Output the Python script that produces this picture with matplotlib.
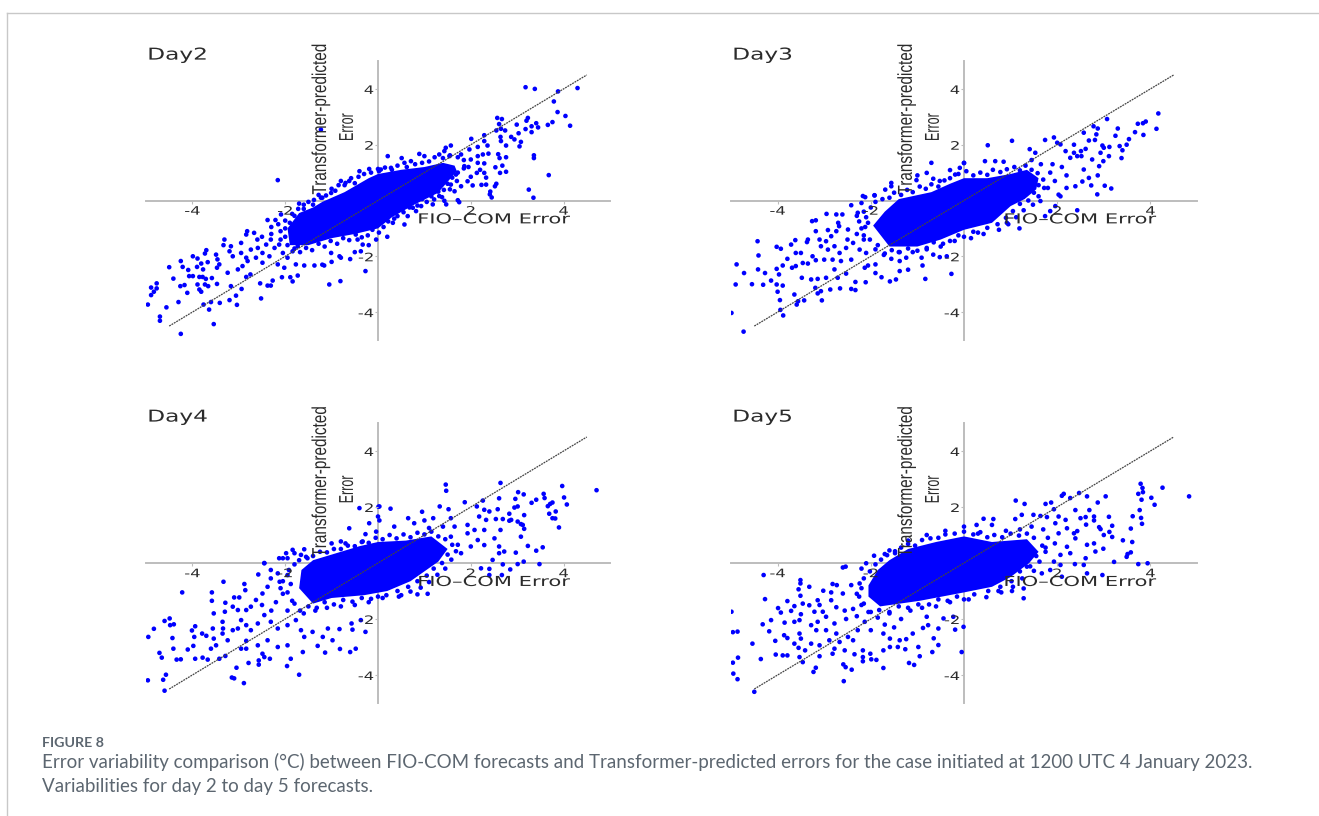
import numpy as np
import matplotlib
matplotlib.use('Agg')
import matplotlib.pyplot as plt
from matplotlib.lines import Line2D
from matplotlib.patches import Polygon
from matplotlib.patheffects import AbstractPathEffect
from matplotlib.transforms import Affine2D

# points (FIO-COM error, Transformer-predicted error)
# the middle of each cloud is solid blue, no single point can be read there,
# so it is kept as an outline of the solid area
day2_core = [(-1.95,-1.0),(-1.7,-0.45),(-1.4,-0.25),(-1.2,-0.05),(-0.72,0.3),(-0.2,0.8),(0,0.95),(0.5,1.1),(1.0,1.2),(1.4,1.35),
             (1.65,1.25),(1.7,1.05),(1.29,0.27),(0.78,-0.15),(0.3,-0.6),(0,-1.0),(-0.5,-1.2),(-1,-1.35),(-1.5,-1.6),(-1.9,-1.6)]
day2_edge = [(-2.3,-0.95),(-2.15,-0.85),(-2.0,-0.72),(-1.85,-0.48),(-1.72,-0.3),(-1.6,-0.15),(-1.5,-0.05),(-1.38,0.02),(-1.28,0.2),(-1.12,0.18),
    (-1.0,0.42),(-0.92,0.35),(-0.85,0.55),(-0.72,0.55),(-0.62,0.7),(-0.5,0.62),(-0.42,0.85),(-0.3,0.95),(-0.15,1.0),(0.02,1.05),
    (0.15,1.18),(0.3,1.1),(0.42,1.25),(0.62,1.2),(0.8,1.3),(0.95,1.35),(1.1,1.4),(1.22,1.55),(1.4,1.52),(1.55,1.62),
    (1.72,1.55),(1.85,1.45),(1.85,1.15),(1.72,1.0),(1.95,1.2),(1.6,0.82),(1.7,0.7),(1.5,0.6),(1.42,0.38),(1.55,0.4),
    (1.3,0.32),(1.38,0.12),(1.15,0.15),(1.05,-0.05),(0.95,0.05),(0.85,-0.18),(0.68,-0.25),(0.55,-0.42),(0.45,-0.3),(0.35,-0.65),
    (0.22,-0.75),(0.12,-0.95),(0.02,-1.15),(-0.12,-1.05),(-0.22,-1.25),(-0.35,-1.32),(-0.48,-1.22),(-0.62,-1.42),(-0.75,-1.35),(-0.88,-1.55),
    (-1.02,-1.45),(-1.15,-1.65),(-1.28,-1.55),(-1.42,-1.78),(-1.55,-1.7),(-1.68,-1.85),(-1.8,-1.72),(-1.95,-1.6),(-2.1,-1.4),(-2.0,-1.3)]
day2_points = [(3.18,4.06),(3.38,4.0),(3.88,3.91),(4.30,4.03),(3.79,3.55),(3.87,3.17),(4.04,3.03),(4.14,2.68),(3.76,2.81),(3.66,2.71),
    (3.45,2.62),(3.41,2.77),(3.31,2.66),(3.31,2.45),(3.18,2.56),(3.23,2.96),(3.2,2.86),(2.99,2.72),(3.03,2.41),(2.57,2.96),
    (2.67,2.92),(2.61,2.74),(2.65,2.57),(2.55,2.51),(2.74,2.51),(2.29,2.34),(2.64,2.28),(2.87,2.28),(2.94,2.19),(3.08,2.10),
    (3.05,1.94),(2.76,1.97),(2.65,2.13),(2.29,2.13),(2.01,2.21),(3.36,1.62),(3.36,1.52),(3.68,0.91),(3.25,0.39),(3.35,0.10),
    (2.55,0.60),(2.52,0.51),(2.42,0.32),(2.41,0.22),(2.45,0.11),(2.76,1.03),(2.63,0.99),(2.68,1.25),(2.53,1.19),(2.76,1.55),
    (2.62,1.52),(2.59,1.66),(2.38,1.68),(2.29,1.33),(2.29,0.99),(2.33,0.82),(2.23,0.56),(2.33,0.57),(2.13,0.99),(2.0,0.85),
    (2.04,0.54),(1.57,1.97),(1.46,1.89),(1.43,1.77),(0.21,1.59),(0.51,1.52),(0.89,1.67),(1.75,-0.06),(1.72,0.01),(1.47,-0.14),
    (0.82,-0.38),(0.57,-0.86),(0.57,1.35),(0.71,1.41),(1.0,1.59),(1.32,1.65),(1.54,1.59),(1.79,1.65),(1.97,1.83),(2.15,1.92),
    (2.36,1.97),(0.06,1.11),(0.28,1.17),(1.68,0.93),(1.86,1.23),(2.0,1.47),(2.15,1.59),(2.26,1.65),(1.93,0.69),(1.79,0.51),
    (1.65,0.33),(1.57,0.57),(1.43,-0.01),(1.32,0.16),(1.21,0.04),(1.18,-0.14),(0.93,-0.2),(0.75,-0.26),(0.64,-0.56),(0.42,-0.56),
    (0.32,-0.8),(0.06,-0.8),(2.15,1.35),(2.2,1.1),(-2.16,0.73),(-0.19,1.13),(0,1.13),(-0.4,1.05),(-0.58,0.8),(-0.7,0.63),
    (-0.8,0.7),(-1.01,0.27),(-1.23,0.10),(-1.23,2.54),(-4.25,-4.78),(-3.54,-4.43),(-4.70,-4.31),(-4.70,-4.16),(-4.96,-3.73),(-4.56,-3.83),
    (-4.30,-3.64),(-4.89,-3.39),(-4.83,-3.27),(-4.89,-3.12),(-4.77,-3.15),(-4.77,-2.97),(-4.41,-2.80),(-4.50,-2.39),(-4.25,-2.17),(-4.21,-2.38),
    (-4.09,-2.49),(-3.99,-2.0),(-3.89,-2.08),(-3.90,-2.38),(-3.81,-2.26),(-3.77,-2.47),(-3.70,-1.78),(-3.73,-1.90),(-3.67,-2.21),(-3.49,-1.94),
    (-3.46,-2.11),(-3.42,-2.29),(-3.47,-2.41),(-3.31,-1.40),(-3.33,-1.60),(-3.17,-1.64),(-3.20,-1.82),(-3.13,-2.0),(-2.95,-1.52),(-2.82,-1.10),
    (-2.84,-1.22),(-2.67,-1.16),(-4.07,-2.71),(-3.99,-2.71),(-3.85,-2.74),(-3.78,-2.74),(-3.71,-2.81),(-3.58,-2.78),(-3.47,-2.99),(-3.73,-3.01),
    (-3.66,-3.07),(-3.89,-3.01),(-4.26,-3.07),(-4.17,-3.03),(-4.11,-3.31),(-3.85,-3.19),(-3.81,-3.27),(-3.76,-3.73),(-3.64,-3.91),(-3.60,-3.64),
    (-3.41,-3.67),(-3.20,-3.57),(-3.04,-3.74),(-3.06,-3.41),(-3.17,-3.07),(-2.94,-3.17),(-2.52,-3.51),(-2.54,-2.97),(-2.38,-3.05),(-2.31,-3.05),
    (-2.27,-2.87),(-2.07,-2.75),(-1.89,-2.75),(-1.84,-2.90),(-1.73,-2.69),(-1.05,-3.01),(-0.81,-2.89),(-0.27,-2.53),(-2.84,-2.74),(-2.75,-2.65),
    (-3.24,-2.59),(-3.02,-2.47),(-2.92,-2.35),(-2.81,-2.17),(-2.63,-2.05),(-2.49,-2.23),(-2.34,-2.0),(-2.16,-2.29),(-2.02,-2.41),(-1.77,-2.29),
    (-1.59,-2.33),(-1.37,-2.33),(-1.16,-2.33),(-1.01,-1.88),(-0.83,-2.0),(-0.44,-1.4),(-0.33,-1.58),(-0.37,-1.82),(-0.04,-1.4),(-2.95,-1.88),
    (-2.84,-2.05),(-2.74,-1.76),(-2.59,-1.7),(-2.49,-1.88),(-2.41,-1.58),(-2.31,-1.4),(-2.23,-1.7),(-2.13,-1.58),(-2.05,-1.88),(-1.95,-2.05),
    (-1.84,-1.82),(-1.73,-1.64),(-2.3,-1.2),(-2.5,-1.3),(-2.6,-1.4),(-2.1,-1.1),(-1.9,-0.8),(-2.0,-1.0),(-1.8,-0.55),(-1.6,-0.3),
    (-1.4,-0.15),(-1.2,0.1),(-2.38,-0.7),(-2.21,-0.7),(-2.09,-0.5),(-1.7,-0.11),(-0.8,-2.05),(-0.5,-1.85),(-0.2,-1.6),(0.2,-1.3),
    (-1.2,-2.3),(-1.0,-2.2),(-0.6,-2.1)]

day3_core = [(-1.95,-0.9),(-1.7,-0.4),(-1.4,0.05),(-0.7,0.3),(-0.3,0.6),(0,0.8),(0.5,0.8),(1.0,0.95),(1.35,1.1),(1.6,0.8),
             (1.55,0.4),(1.3,0.05),(1.0,-0.2),(0.6,-0.8),(0,-1.05),(-0.5,-1.4),(-1.0,-1.65),(-1.6,-1.65)]
day3_edge = [(-2.3,-0.55),(-2.15,-0.4),(-2.0,-0.25),(-1.9,-0.05),(-1.75,0.05),(-1.6,0.1),(-1.5,0.28),(-1.35,0.2),(-1.22,0.38),(-1.1,0.3),
    (-0.95,0.5),(-0.82,0.42),(-0.7,0.58),(-0.55,0.5),(-0.42,0.72),(-0.3,0.8),(-0.12,0.95),(0.05,1.05),(0.2,0.9),(0.35,1.0),
    (0.5,0.92),(0.62,1.1),(0.78,1.02),(0.92,1.12),(1.08,1.2),(1.2,1.08),(1.32,1.25),(1.45,1.1),(1.58,0.98),(1.7,0.75),
    (1.6,0.55),(1.72,0.45),(1.5,0.28),(1.6,0.15),(1.38,0.0),(1.48,-0.15),(1.2,-0.12),(1.28,-0.35),(1.05,-0.38),(1.12,-0.6),
    (0.9,-0.62),(0.95,-0.85),(0.72,-0.85),(0.75,-1.05),(0.5,-0.98),(0.42,-1.2),(0.2,-1.12),(0.15,-1.35),(-0.12,-1.25),(-0.3,-1.45),
    (-0.45,-1.55),(-0.65,-1.5),(-0.8,-1.7),(-1.0,-1.8),(-1.2,-1.72),(-1.38,-1.85),(-1.55,-1.78),(-1.72,-1.95),(-1.85,-1.6),(-2.02,-1.4),
    (-2.15,-1.25),(-2.12,-0.95),(-2.25,-0.75)]
day3_points = [(4.17,3.12),(3.90,2.83),(3.84,2.77),(3.73,2.75),(4.13,2.57),(3.85,2.35),(3.67,2.45),(3.54,2.20),(3.49,2.0),(3.30,2.58),
    (3.25,2.32),(3.07,2.92),(2.78,2.66),(2.87,2.58),(2.57,2.43),(2.84,2.37),(2.81,2.17),(2.68,2.15),(3.34,1.95),(3.40,1.80),
    (3.38,1.52),(3.12,1.92),(2.97,1.97),(3.0,1.89),(2.93,1.71),(3.11,1.59),(2.99,1.41),(2.90,1.23),(2.87,0.90),(3.02,0.53),
    (3.16,0.43),(2.86,0.22),(2.73,0.54),(2.68,0.81),(2.54,0.68),(2.39,0.51),(2.57,1.11),(2.75,1.47),(2.52,1.59),(2.43,1.59),
    (2.36,1.71),(2.51,1.77),(2.61,1.85),(2.28,1.53),(2.18,1.77),(2.07,2.01),(2.0,2.07),(1.93,2.26),(1.74,2.17),(1.03,2.14),
    (0.51,1.98),(1.41,1.84),(1.53,1.71),(2.36,2.0),(0.0,1.34),(0.45,1.41),(0.67,1.41),(0.85,1.39),(2.43,-0.35),(1.85,-0.38),
    (1.74,-0.56),(1.64,-0.02),(1.96,-0.2),(2.07,0.15),(2.03,0.21),(1.19,-1.0),(0.92,-0.8),(1.9,1.3),(2.1,1.2),(2.2,0.9),
    (1.95,0.7),(1.8,0.45),(1.85,1.0),(1.65,1.3),(1.45,1.45),(2.2,0.45),(-0.70,1.35),(0.0,1.35),(-0.30,1.09),(-0.09,1.17),
    (-0.19,0.93),(-0.80,0.99),(-1.0,0.90),(-1.02,0.73),(-0.66,0.78),(-0.52,0.7),(-1.56,0.63),(-1.56,0.51),(-1.69,0.39),(-1.92,0.19),
    (-2.12,0.12),(-4.73,-4.70),(-4.99,-4.03),(-3.88,-4.12),(-3.94,-3.92),(-3.59,-3.73),(-3.56,-3.61),(-3.95,-3.57),(-4.0,-3.27),(-3.05,-3.58),
    (-3.43,-3.58),(-3.64,-3.37),(-3.14,-3.33),(-3.07,-3.25),(-3.19,-3.13),(-2.87,-3.19),(-2.66,-3.15),(-2.42,-3.17),(-2.33,-3.21),(-4.90,-3.01),
    (-4.55,-3.0),(-4.31,-3.02),(-4.14,-2.87),(-4.02,-3.01),(-3.89,-3.05),(-3.97,-2.65),(-4.72,-2.60),(-4.42,-2.47),(-4.27,-2.60),(-4.88,-2.29),
    (-4.41,-1.97),(-4.43,-1.46),(-4.02,-1.66),(-3.93,-1.73),(-3.79,-2.09),(-3.89,-2.33),(-4.02,-2.45),(-3.69,-2.41),(-3.61,-2.35),(-3.71,-1.58),
    (-3.62,-1.42),(-3.61,-1.88),(-3.50,-1.88),(-3.35,-1.40),(-3.37,-1.49),(-3.48,-2.77),(-3.28,-2.83),(-3.14,-2.81),(-2.96,-2.77),(-2.78,-2.47),
    (-2.71,-2.77),(-2.53,-2.62),(-2.33,-2.92),(-2.11,-2.93),(-2.13,-2.41),(-2.06,-2.33),(-1.90,-2.29),(-1.90,-2.6),(-1.77,-2.75),(-1.59,-2.9),
    (-1.46,-2.83),(-1.38,-2.53),(-1.2,-2.48),(-0.89,-2.33),(-0.83,-2.81),(-0.27,-2.63),(-1.38,-2.17),(-1.56,-2.09),(-1.24,-2.05),(-0.91,-2.05),
    (-0.66,-1.94),(-0.52,-2.03),(-0.37,-2.0),(-3.18,-0.71),(-3.26,-0.74),(-2.95,-0.48),(-2.74,-0.50),(-2.61,-0.50),(-2.70,-0.80),(-2.68,-0.92),
    (-2.28,-0.44),(-2.42,-0.17),(-3.18,-1.10),(-2.92,-1.06),(-3.1,-1.4),(-2.96,-1.46),(-2.85,-1.28),(-2.74,-1.10),(-2.49,-1.04),(-3.07,-1.64),
    (-2.92,-1.76),(-2.78,-1.64),(-2.67,-1.88),(-2.53,-1.7),(-2.38,-1.52),(-2.24,-1.76),(-2.1,-1.88),(-3.25,-2.0),(-3.18,-2.14),(-3.0,-2.12),
    (-2.82,-2.12),(-2.64,-2.17),(-2.42,-2.12),(-3.46,-2.24),(-3.35,-2.26),(-2.17,0.16),(-1.92,0.18),(-2.2,-0.09),(-2.06,-0.8),(-2.3,-1.2),
    (-2.2,-1.0),(-2.1,-0.6),(-2.5,-1.4),(-2.15,-1.4),(-1.9,-1.75),(-1.7,-1.9),(-1.4,-1.85),(-1.1,-1.85),(-0.8,-1.75),(-0.5,-1.65),
    (-0.2,-1.45),(0.0,-1.3),(0.3,-1.15)]

day4_core = [(-1.7,-0.9),(-1.65,-0.25),(-1.4,0.1),(-1.0,0.3),(-0.4,0.6),(0,0.75),(0.6,0.8),(1.15,0.95),(1.5,0.5),(1.3,0.05),
             (1.0,-0.3),(0.7,-0.65),(0.2,-1.0),(-0.3,-1.15),(-1.0,-1.25),(-1.4,-1.45)]
day4_edge = [(-2.05,-0.65),(-1.92,-0.25),(-1.8,-0.05),(-1.7,0.1),(-1.55,0.22),(-1.4,0.25),(-1.25,0.4),(-1.1,0.38),(-0.95,0.5),(-0.8,0.5),
    (-0.65,0.62),(-0.5,0.6),(-0.35,0.75),(-0.2,0.72),(-0.05,0.9),(0.1,0.85),(0.25,1.0),(0.4,0.88),(0.55,1.02),(0.7,0.92),
    (0.85,1.08),(1.0,1.02),(1.15,1.12),(1.3,0.95),(1.45,0.85),(1.6,0.65),(1.68,0.42),(1.5,0.3),(1.58,0.12),(1.38,0.0),
    (1.45,-0.2),(1.2,-0.2),(1.28,-0.42),(1.05,-0.45),(1.1,-0.68),(0.85,-0.65),(0.92,-0.88),(0.65,-0.85),(0.7,-1.02),(0.42,-1.0),
    (0.45,-1.2),(0.18,-1.15),(0.0,-1.2),(-0.15,-1.28),(-0.35,-1.25),(-0.55,-1.38),(-0.75,-1.32),(-0.95,-1.48),(-1.15,-1.4),(-1.32,-1.6),
    (-1.5,-1.55),(-1.68,-1.7),(-1.85,-1.35),(-1.95,-1.05),(-1.88,-0.75)]
day4_points = [(4.71,2.60),(3.97,2.75),(4.01,2.34),(4.07,2.09),(3.76,2.16),(3.71,2.11),(3.66,2.03),(3.83,1.84),(3.69,1.76),(3.76,1.60),
    (3.82,1.59),(3.90,1.27),(3.57,2.47),(3.59,2.32),(3.41,2.26),(3.31,2.15),(3.14,2.45),(3.02,2.53),(2.96,2.29),(3.01,2.02),
    (2.94,1.98),(3.15,1.71),(2.83,1.76),(2.64,2.86),(2.61,2.31),(2.26,2.23),(1.46,2.80),(1.47,2.58),(1.87,2.17),(2.13,2.02),
    (1.33,2.02),(1.52,1.92),(0.95,1.83),(0.27,1.94),(0.01,2.01),(2.58,1.92),(2.40,1.84),(2.29,1.90),(3.08,1.39),(3.15,1.22),
    (3.08,0.94),(3.23,0.61),(3.55,0.56),(3.41,0.44),(2.97,0.37),(3.14,0.05),(3.48,-0.04),(3.01,-0.04),(2.85,-0.23),(2.69,-0.05),
    (2.67,-0.43),(2.22,-0.19),(2.4,-0.21),(2.4,-0.43),(2.47,0.11),(2.61,0.35),(2.61,0.59),(2.72,0.41),(2.51,0.88),(2.64,1.18),
    (2.83,1.51),(2.69,1.57),(2.54,1.57),(2.87,1.54),(3.01,1.48),(3.12,1.36),(2.18,1.66),(2.33,1.54),(2.29,1.18),(2.08,1.18),
    (1.93,1.06),(2.15,0.82),(2.29,0.64),(2.0,0.59),(1.79,0.35),(1.72,0.65),(1.57,0.94),(1.65,1.3),(1.93,1.36),(1.57,1.6),
    (0.65,1.6),(0.35,1.3),(0.78,1.42),(1.0,1.52),(1.19,1.6),(1.07,-1.1),(0.85,-1.12),(0.5,-1.15),(1.4,1.3),(1.1,1.25),
    (0.03,2.02),(-0.40,1.96),(0,1.66),(0.03,1.52),(-0.19,1.42),(-0.62,1.24),(-0.04,1.12),(-0.27,1.03),(-2.45,0),(-1.98,0.35),
    (-1.84,0.47),(-1.59,0.49),(-1.8,0.35),(-1.66,0.29),(-1.52,0.17),(-1.95,0.17),(-2.13,0.17),(-0.8,0.77),(-1.0,0.7),(-0.33,0.77),
    (-0.7,0.7),(-4.60,-4.56),(-4.63,-4.17),(-4.96,-4.19),(-4.57,-3.99),(-3.15,-4.09),(-3.10,-4.12),(-2.89,-4.29),(-1.70,-3.99),(-1.96,-3.68),
    (-3.05,-3.74),(-2.79,-3.57),(-2.57,-3.63),(-2.57,-3.48),(-2.45,-3.36),(-2.33,-3.42),(-1.88,-3.42),(-4.66,-3.38),(-4.71,-3.21),(-4.34,-3.45),
    (-4.25,-3.44),(-3.94,-3.42),(-3.78,-3.38),(-3.67,-3.45),(-3.42,-3.42),(-3.29,-3.32),(-4.10,-3.09),(-3.98,-2.96),(-4.41,-3.06),(-4.43,-2.68),
    (-4.95,-2.64),(-4.83,-2.35),(-4.60,-2.07),(-4.49,-1.98),(-4.48,-2.22),(-4.40,-2.19),(-4.01,-2.41),(-3.94,-2.26),(-3.96,-2.64),(-3.79,-2.52),
    (-3.70,-2.60),(-3.56,-2.34),(-3.54,-2.70),(-3.60,-3.06),(-3.49,-2.94),(-3.35,-2.52),(-3.24,-2.76),(-3.13,-2.4),(-3.02,-2.34),(-2.84,-2.78),
    (-2.95,-3.06),(-2.84,-3.06),(-2.49,-3.24),(-2.59,-2.94),(-2.38,-2.76),(-2.16,-3.0),(-1.95,-2.94),(-1.62,-3.18),(-1.3,-2.96),(-1.14,-3.2),
    (-0.82,-3.07),(-0.6,-3.18),(-0.48,-3.06),(-0.98,-2.76),(-1.19,-2.64),(-1.41,-2.46),(-1.08,-2.34),(-0.83,-2.36),(-0.55,-2.38),(-0.27,-2.46),
    (-0.57,-2.16),(-0.37,-2.04),(-4.22,-1.05),(-3.58,-1.05),(-3.58,-1.35),(-3.54,-1.80),(-3.29,-1.42),(-3.30,-1.74),(-3.33,-0.67),(-2.88,-0.75),
    (-2.86,-0.97),(-3.1,-1.23),(-2.99,-1.23),(-3.13,-1.56),(-3.02,-1.68),(-2.84,-1.68),(-2.74,-1.56),(-2.63,-1.32),(-2.49,-1.09),(-2.38,-0.85),
    (-2.31,-0.55),(-2.58,-0.41),(-2.45,-0.01),(-2.31,-0.25),(-2.16,-0.37),(-2.12,-0.67),(-1.95,-0.43),(-2.05,0.17),(-2.95,-2.04),(-2.84,-2.22),
    (-2.74,-2.4),(-2.59,-2.16),(-2.45,-1.86),(-2.31,-2.1),(-2.16,-2.34),(-1.95,-2.22),(-1.77,-2.04),(-1.66,-2.4),(-1.59,-2.64),(-3.35,-2.1),
    (-3.34,-2.34),(-2.2,-1.4),(-2.05,-1.1),(-1.95,-1.7),(-1.8,-1.45),(-1.6,-1.8),(-1.35,-1.7),(-1.1,-1.6),(-0.8,-1.55),(-0.5,-1.5),
    (-0.2,-1.4),(0.1,-1.25),(-2.3,-1.7),(-2.5,-1.5),(-2.1,-0.9)]

day5_core = [(-2.05,-1.2),(-2.05,-0.8),(-1.85,-0.25),(-1.6,0.1),(-1.2,0.5),(-0.6,0.75),(0,0.95),(0.6,0.75),(1.35,0.85),(1.6,0.4),
             (1.4,0.0),(1.0,-0.5),(0.6,-0.85),(0,-1.05),(-0.95,-1.35),(-1.8,-1.55)]
day5_edge = [(-2.2,-0.9),(-2.15,-0.55),(-2.02,-0.3),(-1.9,-0.05),(-1.78,0.12),(-1.65,0.28),(-1.48,0.42),(-1.35,0.55),(-1.2,0.68),(-1.05,0.62),
    (-0.9,0.82),(-0.72,0.88),(-0.55,0.9),(-0.4,1.02),(-0.2,1.05),(0,1.12),(0.2,1.02),(0.35,1.1),(0.5,0.92),(0.65,1.0),
    (0.82,0.92),(1.0,1.05),(1.18,0.98),(1.35,1.05),(1.5,0.9),(1.68,0.62),(1.75,0.4),(1.55,0.25),(1.62,0.05),(1.42,-0.12),
    (1.5,-0.28),(1.2,-0.3),(1.25,-0.55),(1.02,-0.65),(1.05,-0.85),(0.78,-0.85),(0.8,-1.05),(0.52,-1.0),(0.48,-1.22),(0.22,-1.12),
    (0.1,-1.3),(-0.15,-1.2),(-0.35,-1.35),(-0.55,-1.3),(-0.75,-1.48),(-0.98,-1.48),(-1.2,-1.6),(-1.4,-1.55),(-1.6,-1.75),(-1.82,-1.68),
    (-2.0,-1.75),(-2.15,-1.45),(-2.25,-1.2)]
day5_points = [(4.83,2.38),(4.26,2.69),(3.79,2.83),(3.83,2.68),(3.84,2.53),(3.74,2.47),(4.02,2.33),(3.81,2.26),(4.09,2.08),(3.77,1.89),
    (3.62,1.67),(3.80,1.61),(3.82,1.40),(3.58,1.23),(3.61,0.75),(3.41,0.81),(3.58,0.38),(3.51,0.32),(3.49,0.22),(3.74,-0.04),
    (3.94,-0.01),(3.22,0.04),(2.97,-0.43),(2.57,-0.07),(2.64,-0.37),(2.38,-0.04),(3.04,2.38),(2.87,2.16),(2.64,2.38),(2.69,1.89),
    (2.39,1.89),(2.47,2.50),(2.28,2.32),(2.14,2.47),(2.10,2.40),(1.11,2.23),(1.30,2.11),(1.75,2.11),(1.87,2.16),(1.93,1.92),
    (3.11,1.65),(3.18,1.33),(3.12,1.11),(3.18,0.93),(3.0,1.0),(2.93,1.21),(2.90,1.28),(2.62,1.37),(2.79,1.66),(2.61,1.64),
    (2.50,1.60),(2.79,1.52),(2.99,0.51),(2.79,0.70),(2.82,0.41),(2.64,0.65),(2.61,0.17),(2.43,1.14),(2.39,0.88),(2.21,0.58),
    (2.28,0.35),(2.07,0.29),(1.93,0.05),(2.07,-0.07),(1.85,-0.25),(2.1,-0.49),(1.67,-0.37),(1.35,-0.13),(1.28,-0.91),(1.03,-1.0),
    (0.74,-1.0),(1.28,-1.26),(0.42,1.58),(0.63,1.57),(0.27,1.36),(0.60,1.36),(1.10,1.57),(1.24,1.72),(1.49,1.72),(1.64,1.68),
    (1.78,1.64),(2.03,1.66),(1.96,1.42),(2.18,1.54),(2.21,1.24),(2.36,1.06),(2.03,1.06),(1.8,0.9),(1.7,1.2),(1.45,1.3),
    (1.2,1.2),(1.95,0.7),(1.75,0.55),(0.9,1.15),(-4.5,-4.6),(-2.58,-4.22),(-4.86,-4.15),(-4.95,-3.95),(-4.96,-3.56),(-4.85,-3.38),
    (-4.36,-3.43),(-3.23,-3.89),(-3.18,-3.74),(-2.59,-3.62),(-2.54,-3.72),(-2.41,-3.81),(-1.73,-3.75),(-1.18,-3.57),(-1.07,-3.64),(-0.95,-3.33),
    (-0.68,-3.18),(-0.05,-3.18),(-0.55,-2.93),(-0.65,-2.69),(-0.98,-3.0),(-1.26,-3.08),(-3.46,-3.54),(-3.53,-3.36),(-3.89,-3.30),(-3.79,-3.30),
    (-4.04,-3.27),(-4.54,-2.88),(-4.05,-2.78),(-4.18,-2.44),(-4.96,-2.47),(-4.86,-2.45),(-4.32,-2.19),(-4.14,-2.04),(-4.99,-1.74),(-4.27,-1.29),
    (-4.30,-0.43),(-3.51,-0.61),(-3.51,-0.73),(-3.32,-0.85),(-3.55,-0.94),(-3.51,-1.17),(-3.79,-1.36),(-3.99,-1.61),(-3.93,-1.77),(-3.64,-1.54),
    (-3.46,-1.45),(-3.32,-1.51),(-3.71,-1.71),(-3.50,-1.83),(-3.85,-2.13),(-3.64,-2.10),(-3.53,-2.04),(-3.86,-2.58),(-3.79,-2.68),(-3.53,-2.52),
    (-3.50,-2.70),(-3.64,-2.88),(-3.55,-3.03),(-3.41,-3.12),(-3.28,-2.88),(-3.1,-2.94),(-3.10,-3.33),(-2.82,-3.24),(-2.78,-3.06),(-2.56,-3.12),
    (-2.35,-3.26),(-2.17,-3.12),(-2.17,-3.36),(-2.17,-3.51),(-2.01,-3.24),(-1.88,-3.46),(-1.99,-3.44),(-1.73,-3.12),(-1.59,-3.0),(-1.38,-2.76),
    (-1.42,-3.0),(-1.59,-2.7),(-1.73,-2.52),(-1.24,-2.72),(-1.1,-2.52),(-0.88,-2.32),(-0.77,-2.22),(-0.55,-2.34),(-0.19,-2.38),(-0.01,-2.28),
    (-0.44,-1.98),(-0.23,-1.92),(-0.8,-1.92),(-2.60,-0.16),(-2.54,-0.13),(-2.82,-0.75),(-2.73,-0.79),(-3.02,-0.99),(-2.85,-1.05),(-3.14,-1.33),
    (-3.1,-1.5),(-3.21,-1.74),(-3.03,-1.74),(-2.96,-1.92),(-3.14,-2.1),(-3.28,-2.22),(-3.17,-2.4),(-2.96,-2.4),(-2.78,-2.16),(-2.74,-2.52),
    (-2.89,-2.76),(-2.67,-2.82),(-2.49,-2.64),(-2.38,-2.76),(-2.28,-2.4),(-2.13,-2.1),(-2.53,-2.0),(-2.38,-1.64),(-2.56,-1.7),(-2.74,-1.58),
    (-2.85,-1.33),(-2.6,-1.09),(-2.42,-0.79),(-2.24,-0.73),(-2.1,-0.01),(-1.93,0.26),(-1.7,0.32),(-1.48,0.35),(-2.3,-1.1),(-2.2,-1.5),
    (-2.3,-1.9),(-2.05,-1.75),(-1.85,-1.95),(-1.6,-1.8),(-1.35,-2.0),(-1.15,-1.7),(-0.9,-1.6),(-0.6,-1.55),(-0.3,-1.4),(0,-1.3),
    (-1.7,-2.2),(-1.5,-2.3),(-2.0,-2.4),(-2.2,-0.2),(-1.6,0.45),(-1.2,0.8),(-0.8,1.0),(-0.4,1.15),(0,1.3),(0.3,1.05)]

panel_titles = ['Day2', 'Day3', 'Day4', 'Day5']
panel_points = [day2_points + day2_edge, day3_points + day3_edge, day4_points + day4_edge, day5_points + day5_edge]
panel_core = [day2_core, day3_core, day4_core, day5_core]
tick_values = [-4, -2, 2, 4]
tick_labels = ['-4', '-2', '2', '4']
caption_head = 'FIGURE 8'
caption_lines = ['Error variability comparison (°C) between FIO-COM forecasts and Transformer-predicted errors for the case initiated at 1200 UTC 4 January 2023.',
                 'Variabilities for day 2 to day 5 forecasts.']


# the picture is stretched sideways, so text gets stretched the same way
class Stretch(AbstractPathEffect):
    def __init__(self, sx, pivot='left'):
        super().__init__()
        self.sx = sx
        self.pivot = pivot

    def draw_path(self, renderer, gc, tpath, affine, rgbFace=None):
        box = tpath.get_extents()
        c = {'left': box.x0, 'center': (box.x0 + box.x1) / 2, 'right': box.x1}[self.pivot]
        tr = Affine2D().translate(-c, 0).scale(self.sx, 1).translate(c, 0)
        renderer.draw_path(gc, tpath, tr + affine, rgbFace)


W, H = 1319, 816
fig = plt.figure(figsize=(W / 100, H / 100), dpi=100)
ink = '#2b2b2b'
# left, right, top, bottom of each panel in pixels
boxes = [(146, 610, 61, 340), (731, 1197, 61, 340), (146, 610, 423, 703), (731, 1197, 423, 703)]

for i in range(4):
    l, r, t, b = boxes[i]
    ax = fig.add_axes([l / W, 1 - b / H, (r - l) / W, (b - t) / H])
    ax.set_xlim(-5, 5)
    ax.set_ylim(-5, 5)
    ax.patch.set_alpha(0)
    for s in ['top', 'right']:
        ax.spines[s].set_visible(False)
    for s in ['left', 'bottom']:
        ax.spines[s].set_position(('data', 0))
        ax.spines[s].set_color('#bdbdbd')
        ax.spines[s].set_linewidth(1.4)
        ax.spines[s].set_zorder(0.5)

    ax.set_xticks(tick_values, tick_labels)
    ax.set_yticks(tick_values, tick_labels)
    ax.tick_params(length=2, width=0.8, color='#bdbdbd', labelsize=8.4, labelcolor=ink, pad=1)
    for lab in ax.get_xticklabels():
        lab.set_path_effects([Stretch(1.4, 'center')])
    for lab in ax.get_yticklabels():
        lab.set_path_effects([Stretch(1.4, 'right')])

    pts = np.array(panel_points[i])
    ax.add_patch(Polygon(panel_core[i], closed=True, facecolor='#0000ff', edgecolor='none', zorder=1))
    ax.scatter(pts[:, 0], pts[:, 1], s=11, color='#0000ff', edgecolors='none', zorder=1.2)
    ax.plot([-4.5, 4.5], [-4.5, 4.5], color='#444444', linewidth=0.9, linestyle=(0, (1.5, 0.7)), zorder=2)

    ax.text(-4.96, 5.05, panel_titles[i], fontsize=11.8, color=ink, ha='left', va='baseline',
            path_effects=[Stretch(1.42)], zorder=4, clip_on=False)
    ax.text(0.86, -0.82, 'FIO\u2013COM Error', fontsize=9.9, color=ink, ha='left', va='baseline',
            path_effects=[Stretch(1.53)], zorder=4)
    ax.text(-1.12, 0.21, 'Transformer-predicted', fontsize=14.5, family='Liberation Sans', color=ink, rotation=90,
            rotation_mode='anchor', ha='left', va='baseline', path_effects=[Stretch(0.76)], zorder=4)
    ax.text(-0.54, 2.11, 'Error', fontsize=14.5, family='Liberation Sans', color=ink, rotation=90,
            rotation_mode='anchor', ha='left', va='baseline', path_effects=[Stretch(0.62)], zorder=4)

# page frame and caption
fig.add_artist(Line2D([7 / W, 7 / W], [0, 1 - 13 / H], color='#c8c8c8', linewidth=1))
fig.add_artist(Line2D([7 / W, 1], [1 - 13 / H, 1 - 13 / H], color='#c8c8c8', linewidth=1))
fig.text(42 / W, 1 - 747 / H, caption_head, fontsize=10.3, family='Lato', fontweight='bold', color='#5c6670', va='baseline')
fig.text(42 / W, 1 - 768 / H, caption_lines[0], fontsize=13.5, family='Lato', color='#5c6670', va='baseline')
fig.text(42 / W, 1 - 792 / H, caption_lines[1], fontsize=13.5, family='Lato', color='#5c6670', va='baseline')

fig.savefig('out.png', dpi=100)
